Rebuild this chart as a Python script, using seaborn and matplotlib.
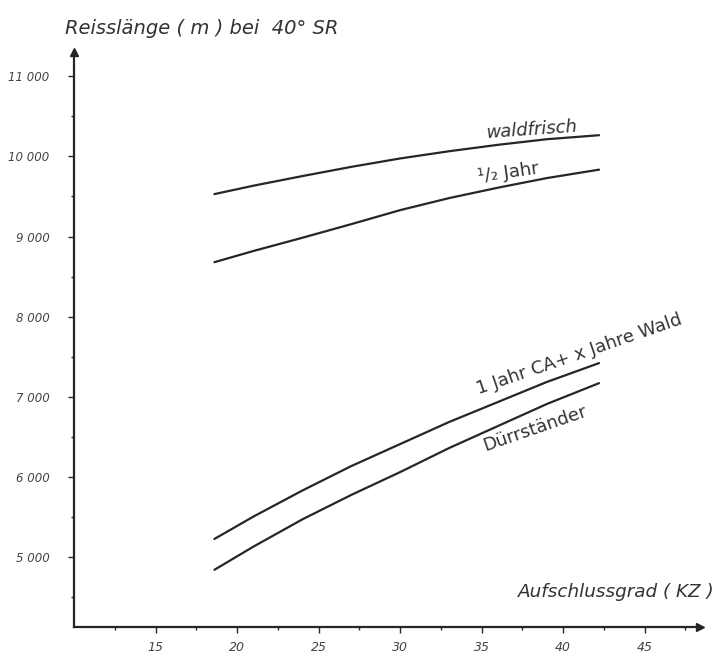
import matplotlib
matplotlib.use("Agg")
import matplotlib.pyplot as plt
import seaborn as sns
import pandas as pd

# Aufschlussgrad (KZ) where the curves were read
kz = [18.6, 21, 24, 27, 30, 33, 36, 39, 42.2]

# Reisslänge (m) bei 40° SR
waldfrisch = [9530, 9635, 9755, 9870, 9975, 10065, 10145, 10215, 10265]
halbes_jahr = [8680, 8820, 8985, 9155, 9330, 9480, 9610, 9730, 9835]
ein_jahr_ca = [5225, 5505, 5830, 6135, 6410, 6685, 6935, 7185, 7420]
duerrstaender = [4840, 5130, 5470, 5775, 6060, 6360, 6635, 6910, 7170]

series_names = ["waldfrisch", "1/2 Jahr", "1 Jahr CA + x Jahre Wald", "Dürrständer"]

y_ticks = [5000, 6000, 7000, 8000, 9000, 10000, 11000]
y_ticklabels = ["5 000", "6 000", "7 000", "8 000", "9 000", "10 000", "11 000"]
x_ticks = [15, 20, 25, 30, 35, 40, 45]

rows = []
for name, vals in zip(series_names, [waldfrisch, halbes_jahr, ein_jahr_ca, duerrstaender]):
    for x, y in zip(kz, vals):
        rows.append({"KZ": x, "Reisslaenge": y, "Kurve": name})
df = pd.DataFrame(rows)

sns.set_style("white")
plt.rcParams["font.family"] = ["DejaVu Sans"]
ink = "#262626"

fig = plt.figure(figsize=(7.21, 6.62), dpi=100)
ax = fig.add_axes([0.103, 0.053, 0.868, 0.868])

sns.lineplot(data=df, x="KZ", y="Reisslaenge", hue="Kurve", units="Kurve",
             palette=[ink] * 4, linewidth=1.6, legend=False, estimator=None, ax=ax)

ax.set_xlim(10, 48.4)
ax.set_ylim(4127, 11300)

for s in ["top", "right"]:
    ax.spines[s].set_visible(False)
for s in ["left", "bottom"]:
    ax.spines[s].set_color(ink)
    ax.spines[s].set_linewidth(1.6)

# arrow heads on the axes
ax.plot(1, 0, ">", color=ink, markersize=6, transform=ax.transAxes, clip_on=False)
ax.plot(0, 1, "^", color=ink, markersize=6, transform=ax.transAxes, clip_on=False)

ax.set_yticks(y_ticks)
ax.set_yticklabels(y_ticklabels, fontstyle="italic", fontsize=8.5, color="#444444")
ax.set_yticks([4500, 5500, 6500, 7500, 8500, 9500, 10500], minor=True)
ax.set_xticks(x_ticks)
ax.set_xticklabels([str(t) for t in x_ticks], fontstyle="italic", fontsize=9, color="#444444")
ax.set_xticks([12.5, 17.5, 22.5, 27.5, 32.5, 37.5, 42.5, 47.5], minor=True)
ax.tick_params(axis="y", which="major", direction="out", length=4, width=1, color=ink, pad=14, left=True)
ax.tick_params(axis="y", which="minor", direction="out", length=2.5, width=1, color=ink, left=True)
ax.tick_params(axis="x", which="major", direction="out", length=4, width=1, color=ink, pad=6, bottom=True)
ax.tick_params(axis="x", which="minor", direction="out", length=2.5, width=1, color=ink, bottom=True)
ax.set_xlabel("")
ax.set_ylabel("")

fig.text(65 / 721, 1 - 28 / 662, "Reisslänge ( m ) bei  40° SR", fontsize=14,
         fontstyle="italic", color="#333333", ha="left", va="center")
fig.text(715 / 721, 1 - 592 / 662, "Aufschlussgrad ( KZ )", fontsize=13.2,
         fontstyle="italic", color="#333333", ha="right", va="center")

lab = dict(fontsize=13, color="#333333", ha="center", va="center")
ax.text(38.1, 10330, "waldfrisch", rotation=4, fontstyle="italic", **lab)
ax.text(36.6, 9790, "¹/₂ Jahr", rotation=8, **lab)
ax.text(41.0, 7530, "1 Jahr CA+ x Jahre Wald", rotation=19, **lab)
ax.text(38.3, 6600, "Dürrständer", rotation=19, **lab)

fig.savefig("out.png", dpi=100)
